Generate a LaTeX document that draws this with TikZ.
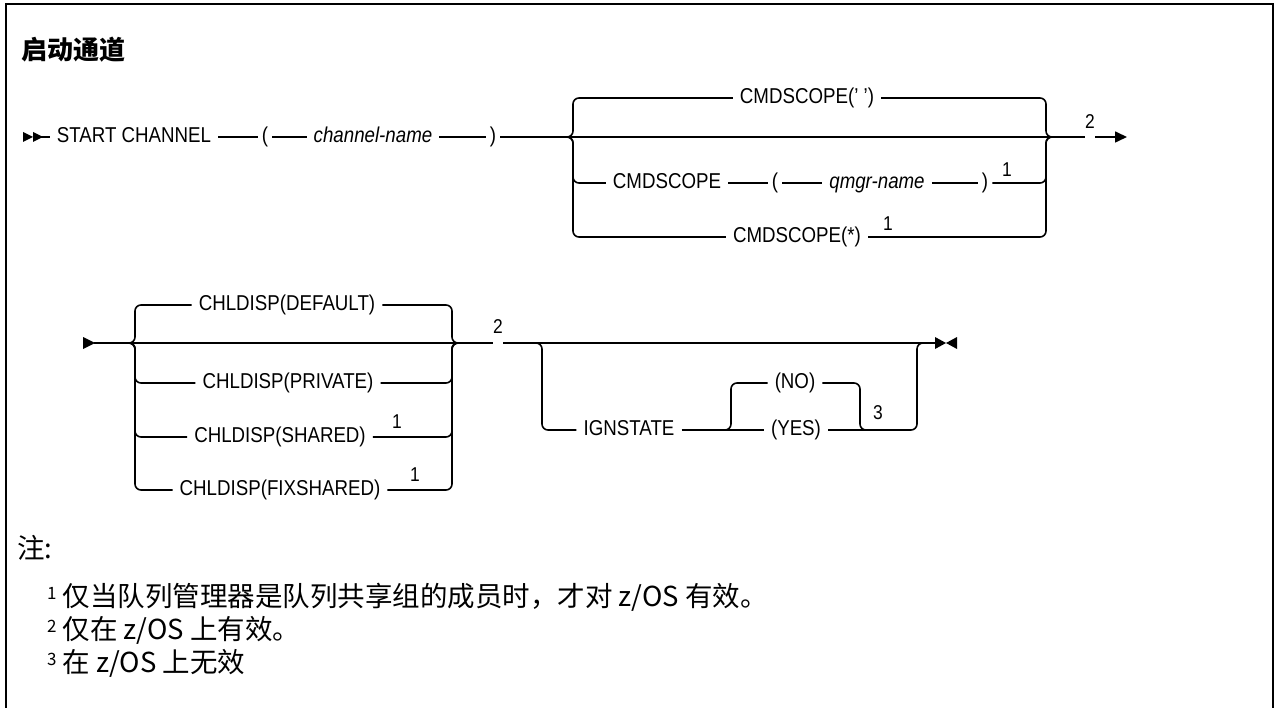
\documentclass[tikz,border=0pt]{standalone}
\usepackage{fontspec}
\setmainfont{Liberation Sans}[FakeStretch=0.87]
\newfontfamily\cjkfont{Noto Sans CJK SC}
\usetikzlibrary{arrows.meta}
\newcommand{\noteMark}[1]{\raisebox{7pt}{\fontsize{17}{17}\selectfont #1}}

\begin{document}
\begin{tikzpicture}[x=1pt,y=-1pt,
  rail/.style={line width=1.6pt},
  kw/.style={inner xsep=7pt, inner ysep=0pt, text height=15pt, text depth=4pt, font=\fontsize{21.5}{24}\selectfont},
  var/.style={kw, font=\fontsize{21.5}{24}\selectfont\itshape},
  par/.style={kw, inner xsep=4pt},
  fn/.style={inner sep=0pt, font=\fontsize{20}{22}\selectfont},
  note/.style={anchor=west, inner sep=0pt, font=\fontsize{27.5}{30}\selectfont\cjkfont}]
\useasboundingbox (0,0) rectangle (1276,708);
\draw[line width=2.6pt] (6,708) -- (6,4) -- (1273,4) -- (1273,708);
\node[anchor=west, inner sep=0pt, font=\fontsize{26}{30}\selectfont\cjkfont\bfseries] (title) at (21,50) {启动通道};

\fill (23,132) -- (33,137) -- (23,142) -- cycle (33,132) -- (43,137) -- (33,142) -- cycle;
\coordinate (rowAbegin) at (40,137);
\node[kw] (startch) at (134,137) {START CHANNEL};
\node[par] (lpa) at (265,137) {(};
\node[var] (chname) at (373,137) {channel-name};
\node[par] (rpa) at (493,137) {)};
\draw[rail] (rowAbegin) -- (startch.west) (startch.east) -- (lpa.west) (lpa.east) -- (chname.west) (chname.east) -- (rpa.west);

\coordinate (bAl) at (566,137);
\coordinate (bAlv) at (573,137);
\coordinate (bArv) at (1046,137);
\coordinate (bAr) at (1053,137);
\node[kw] (csdef) at (807,98) {CMDSCOPE(' ')};
\node[kw] (cscmd) at (667,183) {CMDSCOPE};
\node[par] (cslpa) at (775,183) {(};
\node[var] (qmgr) at (877,183) {qmgr-name};
\node[par] (csrpa) at (985,183) {)};
\node[fn] (fnq) at (1007,170) {1};
\node[kw] (csall) at (797,237) {CMDSCOPE(*)};
\node[fn] (fnall) at (888,224) {1};
\node[fn] (fnA) at (1090,122) {2};
\coordinate (rowAend) at (1127,137);
\draw[rail] (rpa.east) -- (rpa.east -| fnA.west);
\draw[rail,-{Triangle[length=12pt,width=11pt]}] (fnA.east |- rpa.east) -- (rowAend);
\draw[rail,rounded corners=6pt] (bAl) -- (bAlv) |- (csdef.west) (csdef.east) -| (bArv) -- (bAr);
\draw[rail,rounded corners=6pt] (bAl) -- (bAlv) |- (cscmd.west) (csrpa.east) -| (bArv) -- (bAr);
\draw[rail] (cscmd.east) -- (cslpa.west) (cslpa.east) -- (qmgr.west) (qmgr.east) -- (csrpa.west);
\draw[rail,rounded corners=6pt] (bAl) -- (bAlv) |- (csall.west) (csall.east) -| (bArv) -- (bAr);

\fill (83,337) -- (95,343) -- (83,349) -- cycle;
\coordinate (rowBbegin) at (94,343);
\coordinate (bBl) at (127,343);
\coordinate (bBlv) at (135,343);
\coordinate (bBrv) at (452,343);
\coordinate (bBr) at (460,343);
\node[kw] (cddef) at (287,305) {CHLDISP(DEFAULT)};
\node[kw] (cdpriv) at (288,383) {CHLDISP(PRIVATE)};
\node[kw] (cdshr) at (280,437) {CHLDISP(SHARED)};
\node[fn] (fnshr) at (397,422) {1};
\node[kw] (cdfix) at (280,490) {CHLDISP(FIXSHARED)};
\node[fn] (fnfix) at (415,475) {1};
\node[fn] (fnB) at (498,327) {2};
\draw[rail] (rowBbegin) -- (rowBbegin -| fnB.west);
\draw[rail,rounded corners=6pt] (bBl) -- (bBlv) |- (cddef.west) (cddef.east) -| (bBrv) -- (bBr);
\draw[rail,rounded corners=6pt] (bBl) -- (bBlv) |- (cdpriv.west) (cdpriv.east) -| (bBrv) -- (bBr);
\draw[rail,rounded corners=6pt] (bBl) -- (bBlv) |- (cdshr.west) (cdshr.east) -| (bBrv) -- (bBr);
\draw[rail,rounded corners=6pt] (bBl) -- (bBlv) |- (cdfix.west) (cdfix.east) -| (bBrv) -- (bBr);

\coordinate (oAl) at (533,343);
\coordinate (oAlv) at (542,343);
\coordinate (oArv) at (917,343);
\coordinate (oAr) at (926,343);
\coordinate (rowBend) at (935,343);
\node[kw] (ign) at (629,430) {IGNSTATE};
\node[kw] (ino) at (795,383) {(NO)};
\node[kw] (iyes) at (796,430) {(YES)};
\coordinate (iAl) at (723,430);
\coordinate (iAlv) at (731,430);
\coordinate (iArv) at (860,430);
\coordinate (iAr) at (868,430);
\node[fn] (fnC) at (878,413) {3};
\draw[rail] (fnB.east |- rowBbegin) -- (rowBend);
\draw[rail,rounded corners=6pt] (oAl) -- (oAlv) |- (ign.west);
\draw[rail] (ign.east) -- (iyes.west);
\draw[rail,rounded corners=6pt] (iAl) -- (iAlv) |- (ino.west) (ino.east) -| (iArv) -- (iAr);
\draw[rail,rounded corners=6pt] (iyes.east) -| (oArv) -- (oAr);
\fill (rowBend) ++(0,-6) -- ++(11,6) -- ++(-11,6) -- cycle (957,337) -- (946,343) -- (957,349) -- cycle;

\node[note] (notehead) at (17,548) {注:};
\node[note] (noteA) at (47,597) {\noteMark{1} 仅当队列管理器是队列共享组的成员时，才对 z/OS 有效。};
\node[note] (noteB) at (47,630) {\noteMark{2} 仅在 z/OS 上有效。};
\node[note] (noteC) at (47,663) {\noteMark{3} 在 z/OS 上无效};
\end{tikzpicture}
\end{document}
